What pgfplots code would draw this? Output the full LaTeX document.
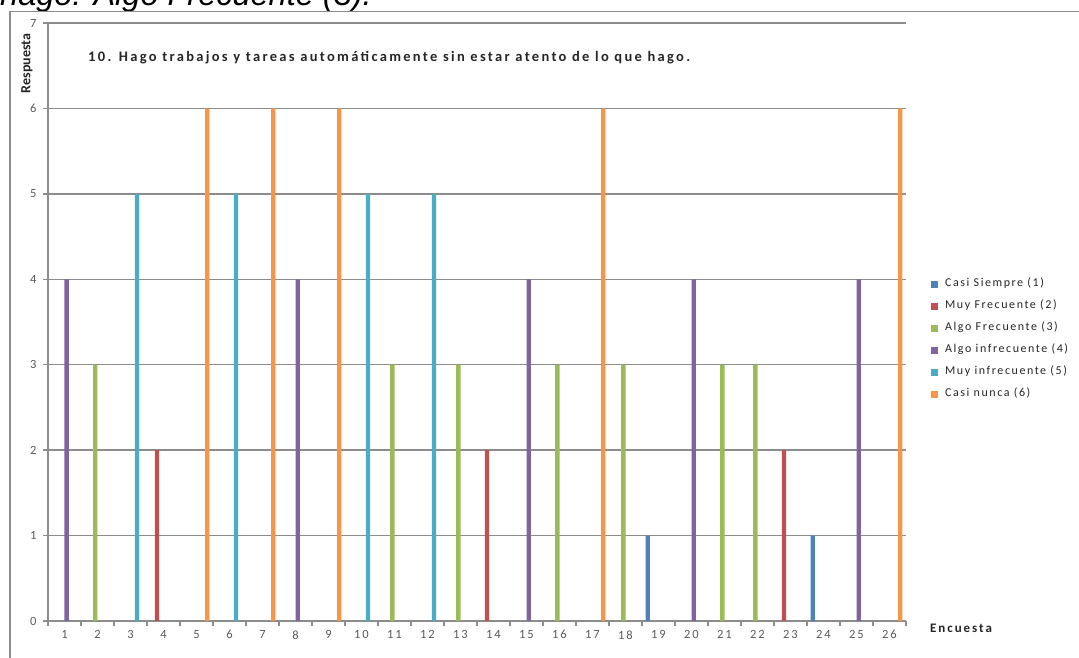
\documentclass[border=0pt]{standalone}
\usepackage{fontspec}
\setmainfont{Carlito}
\usepackage{pgfplots}
\pgfplotsset{compat=1.18}

\newfontfamily\chartfont{Carlito}[LetterSpace=15]
\newfontfamily\legendfont{Carlito}[LetterSpace=13]
\newfontfamily\titlefont{Carlito}[LetterSpace=16]
\newfontfamily\xtitlefont{Carlito}[LetterSpace=15]
\newfontfamily\docfont{Liberation Sans}

\definecolor{s1}{HTML}{4F81BD}
\definecolor{s2}{HTML}{C0504D}
\definecolor{s3}{HTML}{9BBB59}
\definecolor{s4}{HTML}{8064A2}
\definecolor{s5}{HTML}{4BACC6}
\definecolor{s6}{HTML}{F79646}
\definecolor{linegray}{HTML}{8C8C8C}
\definecolor{textgray}{HTML}{595959}
\definecolor{labelblack}{HTML}{262626}

\begin{document}
\begin{tikzpicture}[x=1pt,y=1pt]
\begin{axis}[
  name=ax, scale only axis,
  width=858pt, height=598pt,
  xmin=0.5, xmax=26.5, ymin=0, ymax=7,
  axis x line*=bottom, axis y line*=left,
  axis line style={linegray, line width=1.3pt, -},
  ytick={0,1,...,7},
  xtick={0.5,1.5,...,26.5},
  xticklabels={},
  extra x ticks={1,2,...,26},
  extra x tick labels={1,2,3,4,5,6,7,8,9,10,11,12,13,14,15,16,17,18,19,20,21,22,23,24,25,26},
  extra x tick style={major tick length=0pt, grid=none},
  tick align=outside,
  major tick length=5pt,
  tick style={linegray, line width=1.3pt},
  ymajorgrids,
  grid style={linegray, line width=1.3pt},
  /pgf/number format/assume math mode=true,
  ticklabel style={font=\chartfont\fontsize{12.5}{12.5}\selectfont, text=textgray},
  yticklabel style={xshift=-3pt},
  xticklabel style={yshift=-6pt},
  legend image code/.code={\fill[#1] (0pt,-3.5pt) rectangle (7pt,3.5pt);},
  legend style={at={(1.0291,0.571)}, anchor=north west, draw=none, fill=none,
                inner sep=0pt, row sep=13pt,
                font=\legendfont\fontsize{12}{12}\selectfont, text=labelblack,
                nodes={inner sep=0pt, text height=7pt, text depth=2pt},
                /tikz/every odd column/.append style={column sep=7pt}},
  legend cell align=left,
]
% Casi Siempre (1)
\addplot[ybar, bar width=0.13, bar shift=-0.325, fill=s1, draw=none] coordinates {(19,1) (24,1)};
\addlegendentry{Casi Siempre (1)}
% Muy Frecuente (2)
\addplot[ybar, bar width=0.13, bar shift=-0.195, fill=s2, draw=none] coordinates {(4,2) (14,2) (23,2)};
\addlegendentry{Muy Frecuente (2)}
% Algo Frecuente (3)
\addplot[ybar, bar width=0.13, bar shift=-0.065, fill=s3, draw=none] coordinates {(2,3) (11,3) (13,3) (16,3) (18,3) (21,3) (22,3)};
\addlegendentry{Algo Frecuente (3)}
% Algo infrecuente (4)
\addplot[ybar, bar width=0.13, bar shift=0.065, fill=s4, draw=none] coordinates {(1,4) (8,4) (15,4) (20,4) (25,4)};
\addlegendentry{Algo infrecuente (4)}
% Muy infrecuente (5)
\addplot[ybar, bar width=0.13, bar shift=0.195, fill=s5, draw=none] coordinates {(3,5) (6,5) (10,5) (12,5)};
\addlegendentry{Muy infrecuente (5)}
% Casi nunca (6)
\addplot[ybar, bar width=0.13, bar shift=0.325, fill=s6, draw=none] coordinates {(5,6) (7,6) (9,6) (17,6) (26,6)};
\addlegendentry{Casi nunca (6)}
\end{axis}

% page origin: 48pt left of and 37pt below the plot area's lower left corner
\coordinate (O) at ([shift={(-48,-37)}]ax.south west);
\pgfresetboundingbox
\path[use as bounding box] (O) rectangle ([shift={(1079,658)}]O);

\begin{scope}[shift={(O)}]
% tail of the sentence above the chart, cut by the page edge
\node[anchor=base west, inner sep=0pt, text=black,
      font=\docfont\itshape\fontsize{32.5}{32.5}\selectfont] at (0,652) {hago: Algo Frecuente (3).};

% chart frame
\draw[linegray, line width=1.3pt] (10,0) -- (10,646.5) -- (1079,646.5);

% chart title inside the plot area
\node[anchor=west, inner sep=0pt, text=labelblack,
      font=\titlefont\bfseries\fontsize{14.5}{14.5}\selectfont]
  at (88,600) {10. Hago trabajos y tareas automáticamente sin estar atento de lo que hago.};

% axis titles
\node[rotate=90, inner sep=0pt, text=labelblack,
      font=\bfseries\fontsize{14}{14}\selectfont] at (27,594.5) {Respuesta};
\node[anchor=west, inner sep=0pt, text=labelblack,
      font=\xtitlefont\bfseries\fontsize{13}{13}\selectfont]
  at (930,30) {Encuesta};
\end{scope}
\end{tikzpicture}
\end{document}
